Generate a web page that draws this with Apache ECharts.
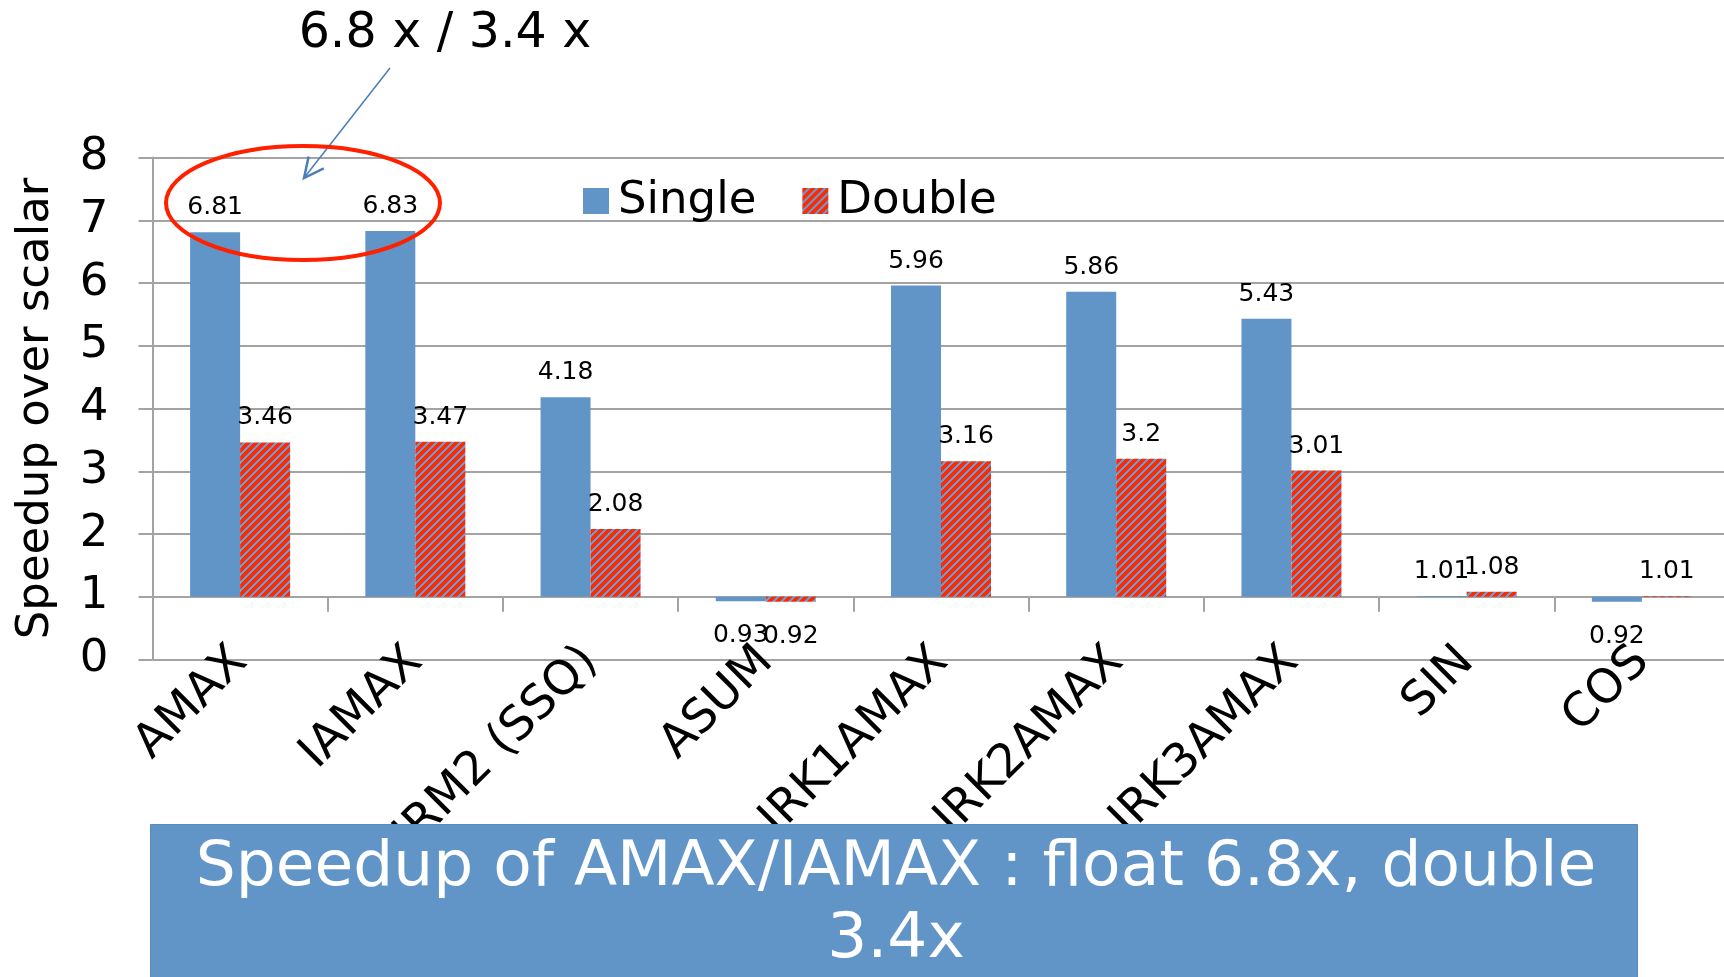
<!DOCTYPE html>
<html>
<head>
<meta charset="utf-8">
<title>Speedup over scalar</title>
<script src="https://cdn.jsdelivr.net/npm/echarts@6/dist/echarts.min.js"></script>
<style>
  html, body { margin: 0; padding: 0; background: #ffffff; }
  #chart { width: 1724px; height: 977px; }
</style>
</head>
<body>
<div id="chart"></div>
<script>
// Kernels measured
const categories = ['AMAX', 'IAMAX', 'NRM2 (SSQ)', 'ASUM', 'IRK1AMAX', 'IRK2AMAX', 'IRK3AMAX', 'SIN', 'COS'];
// Speedup of the SIMD version over the scalar one
const singleValues = [6.81, 6.83, 4.18, 0.93, 5.96, 5.86, 5.43, 1.01, 0.92];
const doubleValues = [3.46, 3.47, 2.08, 0.92, 3.16, 3.2, 3.01, 1.08, 1.01];
const seriesNames = ['Single', 'Double'];
// Bars grow from "no speedup" (1x), so the category axis sits there
const BASELINE = 1;
const axisMin = 0;
const axisMax = 8;
const axisName = 'Speedup over scalar';
const calloutText = '6.8 x / 3.4 x';
const bannerLines = ['Speedup of AMAX/IAMAX : float 6.8x, double', '3.4x'];

const FONT = 'DejaVu Sans';
const BLUE = '#6195c8';
const RED = '#ff2800';
const GRID_GRAY = '#a3a3a3';

// Diagonal red/blue hatching used for the double precision bars
function hatch() {
  const P = 8;
  const c = document.createElement('canvas');
  c.width = P; c.height = P;
  const ctx = c.getContext('2d');
  for (let y = 0; y < P; y++) {
    for (let x = 0; x < P; x++) {
      ctx.fillStyle = ((x + y) % P) < 4.5 ? RED : '#6c9acb';
      ctx.fillRect(x, y, 1, 1);
    }
  }
  return c;
}
const hatchFill = { image: hatch(), repeat: 'repeat' };

function barData(values) {
  return values.map(v => ({
    value: +(v - BASELINE).toFixed(4),
    label: { position: v < BASELINE ? 'bottom' : 'top', distance: v < BASELINE ? 22 : 12 }
  }));
}

function barLabel(values) {
  return {
    show: true,
    fontFamily: FONT,
    fontSize: 25,
    color: '#000',
    formatter: p => String(values[p.dataIndex])
  };
}

const chart = echarts.init(document.getElementById('chart'), null, { renderer: 'canvas' });

// Callout arrow geometry
const arrowFrom = [390, 68];
const arrowTo = [304, 178];
const ang = Math.atan2(arrowTo[1] - arrowFrom[1], arrowTo[0] - arrowFrom[0]);
const headLen = 22, headSpread = 0.45;
const headA = [arrowTo[0] - headLen * Math.cos(ang - headSpread), arrowTo[1] - headLen * Math.sin(ang - headSpread)];
const headB = [arrowTo[0] - headLen * Math.cos(ang + headSpread), arrowTo[1] - headLen * Math.sin(ang + headSpread)];

chart.setOption({
  animation: false,
  backgroundColor: '#ffffff',
  textStyle: { fontFamily: FONT },
  grid: {
    left: 152.5, top: 157.5, width: 1577, height: 502,
    containLabel: false, outerBoundsMode: 'none'
  },
  legend: {
    data: seriesNames,
    left: 578, top: 171,
    icon: 'rect',
    itemWidth: 26, itemHeight: 26, itemGap: 46,
    textStyle: { fontFamily: FONT, fontSize: 45, color: '#000', lineHeight: 50, padding: [0, 0, 0, 4] }
  },
  xAxis: {
    type: 'category',
    data: categories,
    axisLine: { onZero: true, lineStyle: { color: GRID_GRAY, width: 2 } },
    axisTick: { show: true, interval: 0, length: 15, lineStyle: { color: GRID_GRAY, width: 2 } },
    axisLabel: {
      interval: 0, rotate: 45, margin: -5,
      fontFamily: FONT, fontSize: 47, color: '#000'
    },
    splitLine: { show: false }
  },
  yAxis: {
    type: 'value',
    min: axisMin - BASELINE, max: axisMax - BASELINE, interval: 1,
    name: axisName,
    nameLocation: 'middle', nameRotate: 90, nameGap: 94,
    nameTextStyle: { fontFamily: FONT, fontSize: 45, color: '#000' },
    axisLine: { show: true, onZero: false, lineStyle: { color: GRID_GRAY, width: 2 } },
    axisTick: { show: true, length: 14, lineStyle: { color: GRID_GRAY, width: 2 } },
    axisLabel: {
      margin: 44, fontFamily: FONT, fontSize: 45, color: '#000',
      padding: [14, 0, 0, 0],
      formatter: v => String(Math.round(v + BASELINE))
    },
    splitLine: { show: true, lineStyle: { color: GRID_GRAY, width: 2 } }
  },
  series: [
    {
      name: seriesNames[0], type: 'bar',
      barWidth: 50, barGap: '0%',
      itemStyle: { color: BLUE },
      label: barLabel(singleValues),
      data: barData(singleValues)
    },
    {
      name: seriesNames[1], type: 'bar',
      barWidth: 50, barGap: '0%',
      itemStyle: { color: hatchFill },
      label: barLabel(doubleValues),
      data: barData(doubleValues)
    }
  ],
  graphic: [
    {
      type: 'text', z: 100,
      x: 445, y: 34,
      style: { text: calloutText, font: '49px "DejaVu Sans"', fill: '#000', align: 'center', verticalAlign: 'middle' }
    },
    {
      type: 'polyline', z: 100,
      shape: { points: [arrowFrom, arrowTo] },
      style: { stroke: '#4a7ebb', lineWidth: 1.5, fill: null }
    },
    {
      type: 'polyline', z: 100,
      shape: { points: [headA, arrowTo, headB] },
      style: { stroke: '#4a7ebb', lineWidth: 2.5, fill: null }
    },
    {
      type: 'ellipse', z: 100,
      shape: { cx: 303, cy: 203, rx: 137, ry: 57 },
      style: { stroke: '#ff2000', lineWidth: 4, fill: null }
    },
    {
      type: 'rect', z: 100,
      shape: { x: 150.5, y: 824.5, width: 1487, height: 200 },
      style: { fill: BLUE, stroke: '#5a89bd', lineWidth: 1 }
    },
    {
      type: 'text', z: 101,
      x: 896, y: 833,
      style: {
        text: bannerLines.join('\n'), font: '63px "DejaVu Sans"', fill: '#ffffff',
        align: 'center', verticalAlign: 'top', lineHeight: 72
      }
    }
  ]
});
</script>
</body>
</html>
